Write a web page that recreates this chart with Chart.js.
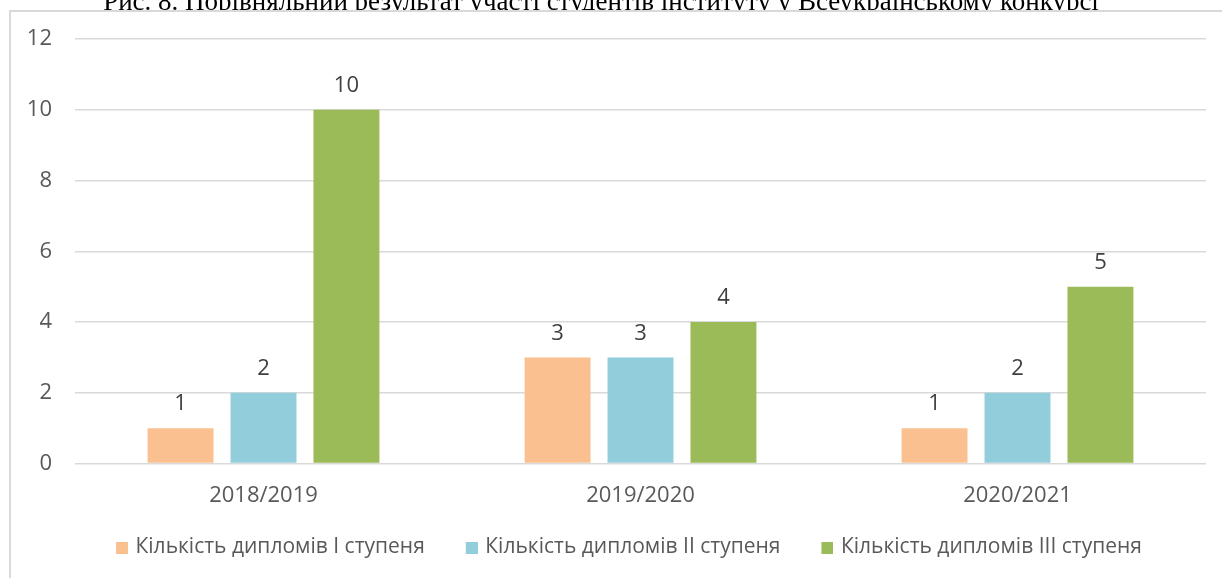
<!DOCTYPE html>
<html>
<head>
<meta charset="utf-8">
<script src="https://cdn.jsdelivr.net/npm/chart.js@4.4.1/dist/chart.umd.min.js"></script>
<style>
  html, body { margin: 0; padding: 0; background: #ffffff; }
  #wrap { width: 1222px; height: 578px; position: relative; }
</style>
</head>
<body>
<div id="wrap"><canvas id="c" width="1222" height="578"></canvas></div>
<script>
const titleText = 'Рис. 8. Порівняльний результат участі студентів інституту у Всеукраїнському конкурсі';
const categories = ['2018/2019', '2019/2020', '2020/2021'];
const seriesNames = ['Кількість дипломів I ступеня', 'Кількість дипломів II ступеня', 'Кількість дипломів III ступеня'];
const seriesColors = ['#FAC090', '#92CDDC', '#9BBB59'];
const diplomasI = [1, 3, 1];
const diplomasII = [2, 3, 2];
const diplomasIII = [10, 4, 5];
const yMin = 0, yMax = 12, yStep = 2;

const FONT = '"Open Sans", "Noto Sans", sans-serif';
const SWATCH = 12, BOXW = 42, OVER = 3;

function swatch(color) {
  const c = document.createElement('canvas');
  c.width = BOXW + 2 * OVER; c.height = SWATCH;
  const g = c.getContext('2d');
  g.fillStyle = color;
  g.fillRect(c.width - SWATCH, 0, SWATCH, SWATCH);
  return c;
}
const swatches = seriesColors.map(swatch);

const framePlugin = {
  id: 'frame',
  beforeDraw(chart) {
    const ctx = chart.ctx;
    ctx.save();
    ctx.fillStyle = '#ffffff';
    ctx.fillRect(0, 0, chart.width, chart.height);
    ctx.save();
    ctx.beginPath();
    ctx.rect(0, 0, chart.width, 10);
    ctx.clip();
    ctx.fillStyle = '#000000';
    ctx.font = '27px "Liberation Serif", "Times New Roman", serif';
    ctx.textAlign = 'center';
    ctx.textBaseline = 'alphabetic';
    ctx.fillText(titleText, 601, 9.5);
    ctx.restore();
    ctx.strokeStyle = '#d9d9d9';
    ctx.lineWidth = 2;
    ctx.beginPath();
    ctx.moveTo(10, chart.height + 5);
    ctx.lineTo(10, 11);
    ctx.lineTo(chart.width + 5, 11);
    ctx.stroke();
    ctx.restore();
  }
};

const valueLabels = {
  id: 'valueLabels',
  afterDatasetsDraw(chart) {
    const ctx = chart.ctx;
    ctx.save();
    ctx.font = '22px ' + FONT;
    ctx.fillStyle = '#404040';
    ctx.textAlign = 'center';
    ctx.textBaseline = 'middle';
    chart.data.datasets.forEach((ds, i) => {
      const meta = chart.getDatasetMeta(i);
      meta.data.forEach((el, j) => {
        ctx.fillText(String(ds.data[j]), el.x, el.y - 24);
      });
    });
    ctx.restore();
  }
};

new Chart(document.getElementById('c'), {
  type: 'bar',
  data: {
    labels: categories,
    datasets: [
      { label: seriesNames[0], data: diplomasI, backgroundColor: seriesColors[0] },
      { label: seriesNames[1], data: diplomasII, backgroundColor: seriesColors[1] },
      { label: seriesNames[2], data: diplomasIII, backgroundColor: seriesColors[2] }
    ]
  },
  options: {
    responsive: false,
    animation: false,
    devicePixelRatio: 1,
    datasets: { bar: { categoryPercentage: 0.66, barPercentage: 0.795 } },
    layout: { padding: { top: 39, right: 16, bottom: 10, left: 0 } },
    scales: {
      y: {
        min: yMin, max: yMax,
        ticks: { stepSize: yStep, padding: 23, color: '#595959', font: { family: FONT, size: 22 } },
        grid: { color: '#d9d9d9', lineWidth: 1.5, drawTicks: false },
        border: { display: false },
        afterFit(s) { s.width = 75; }
      },
      x: {
        ticks: { padding: 20, color: '#595959', font: { family: FONT, size: 22, lineHeight: 1.1 } },
        grid: { display: false, drawTicks: false },
        border: { display: false },
        afterFit(s) { s.height = 65.5; }
      }
    },
    plugins: {
      title: { display: false },
      tooltip: { enabled: false },
      legend: {
        position: 'bottom',
        fullSize: false,
        align: 'start',
        labels: {
          usePointStyle: true,
          pointStyleWidth: BOXW,
          boxHeight: SWATCH,
          padding: 8,
          color: '#595959',
          font: { family: FONT, size: 21 },
          generateLabels(chart) {
            const items = Chart.defaults.plugins.legend.labels.generateLabels(chart);
            items.forEach((it, i) => { it.pointStyle = swatches[i]; });
            return items;
          }
        }
      }
    }
  },
  plugins: [framePlugin, valueLabels]
});
</script>
</body>
</html>
